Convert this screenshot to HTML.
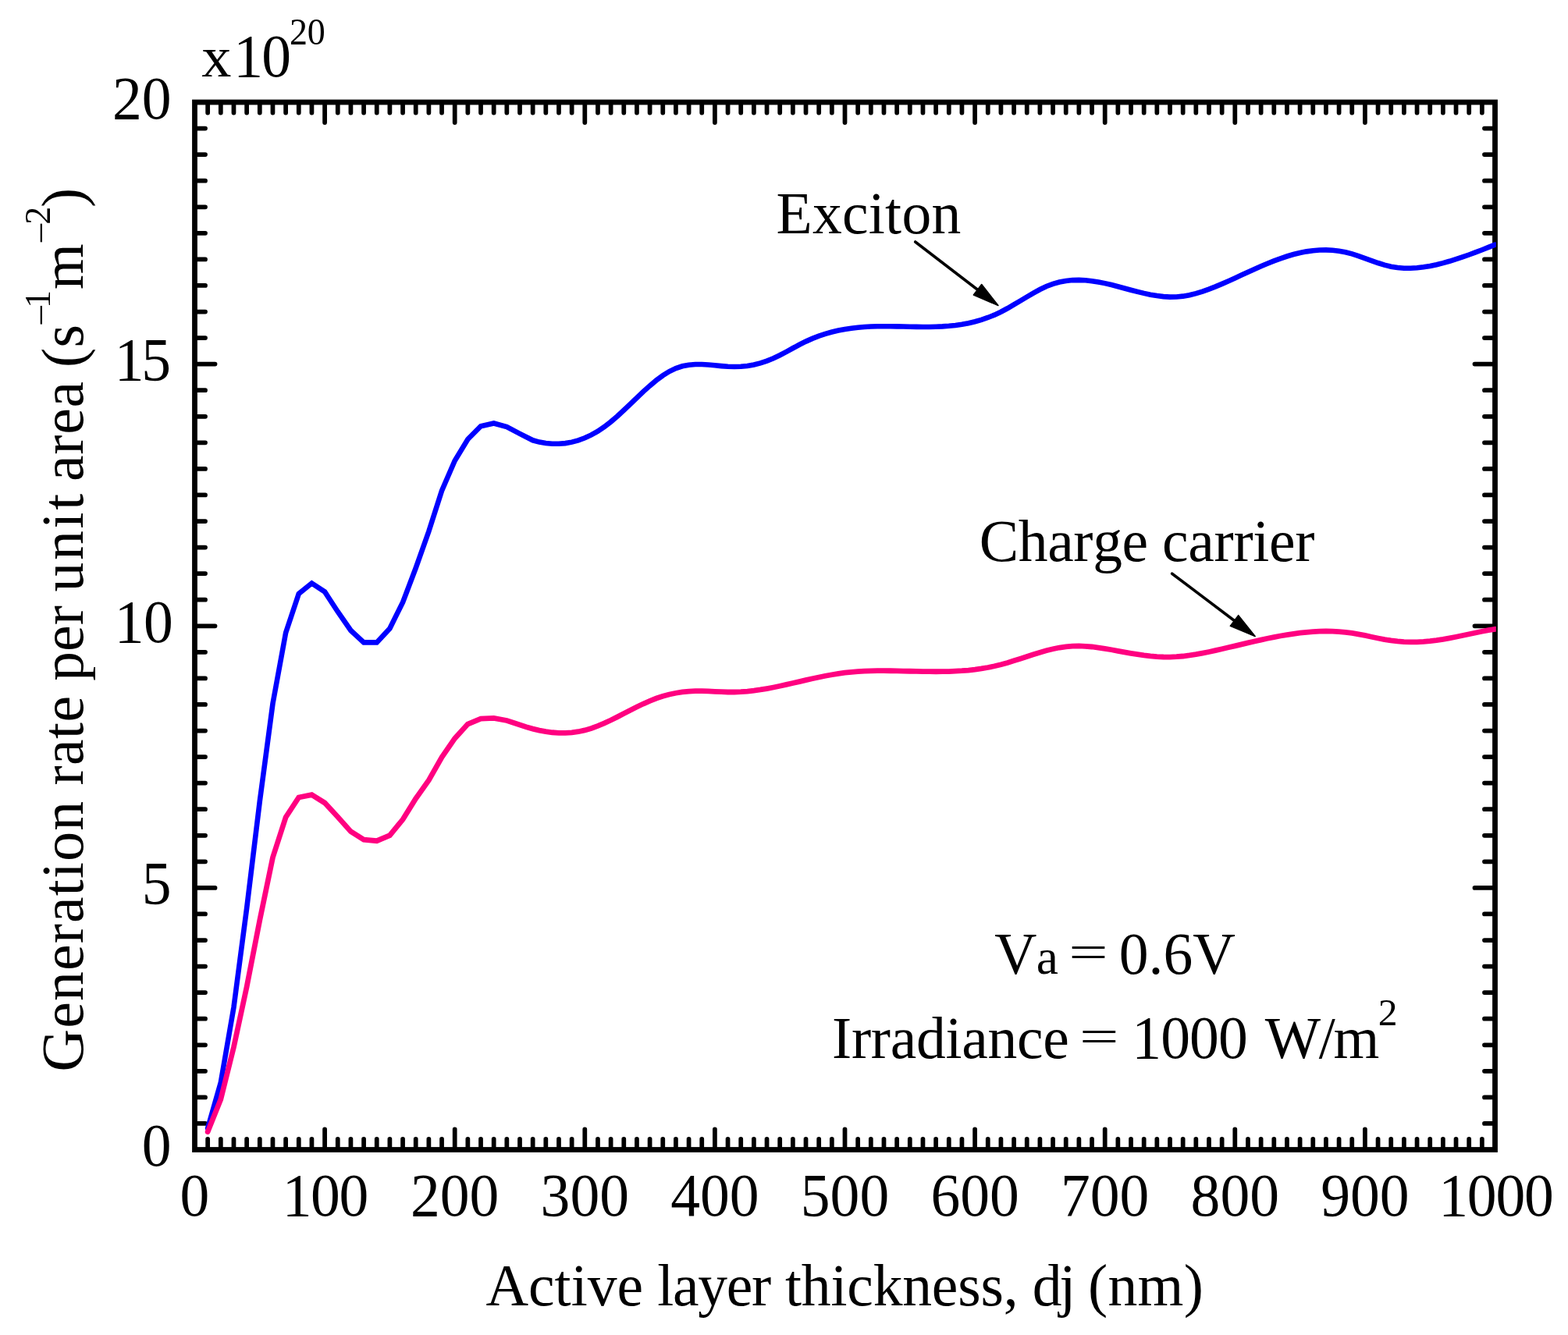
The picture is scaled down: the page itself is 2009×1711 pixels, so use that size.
<!DOCTYPE html>
<html><head><meta charset="utf-8"><title>Generation rate per unit area vs active layer thickness</title>
<style>
html,body{margin:0;padding:0;background:#fff;}
body{width:2009px;height:1711px;overflow:hidden;}
svg{display:block;}
text{font-family:"Liberation Serif","Times New Roman",Times,serif;fill:#000;font-kerning:none;}
</style></head><body>
<svg width="2009" height="1711" viewBox="0 0 2009 1711">
<rect width="2009" height="1711" fill="#fff"/>
<path id="ticks" d="M266.16,1470.10V1459.97M266.16,134.40V144.53M282.82,1470.10V1459.97M282.82,134.40V144.53M299.48,1470.10V1459.97M299.48,134.40V144.53M316.14,1470.10V1459.97M316.14,134.40V144.53M332.80,1470.10V1459.97M332.80,134.40V144.53M349.46,1470.10V1459.97M349.46,134.40V144.53M366.12,1470.10V1459.97M366.12,134.40V144.53M382.78,1470.10V1459.97M382.78,134.40V144.53M399.44,1470.10V1459.97M399.44,134.40V144.53M416.10,1470.10V1447.47M416.10,134.40V157.03M432.76,1470.10V1459.97M432.76,134.40V144.53M449.42,1470.10V1459.97M449.42,134.40V144.53M466.08,1470.10V1459.97M466.08,134.40V144.53M482.74,1470.10V1459.97M482.74,134.40V144.53M499.40,1470.10V1459.97M499.40,134.40V144.53M516.06,1470.10V1459.97M516.06,134.40V144.53M532.72,1470.10V1459.97M532.72,134.40V144.53M549.38,1470.10V1459.97M549.38,134.40V144.53M566.04,1470.10V1459.97M566.04,134.40V144.53M582.70,1470.10V1447.47M582.70,134.40V157.03M599.36,1470.10V1459.97M599.36,134.40V144.53M616.02,1470.10V1459.97M616.02,134.40V144.53M632.68,1470.10V1459.97M632.68,134.40V144.53M649.34,1470.10V1459.97M649.34,134.40V144.53M666.00,1470.10V1459.97M666.00,134.40V144.53M682.66,1470.10V1459.97M682.66,134.40V144.53M699.32,1470.10V1459.97M699.32,134.40V144.53M715.98,1470.10V1459.97M715.98,134.40V144.53M732.64,1470.10V1459.97M732.64,134.40V144.53M749.30,1470.10V1447.47M749.30,134.40V157.03M765.96,1470.10V1459.97M765.96,134.40V144.53M782.62,1470.10V1459.97M782.62,134.40V144.53M799.28,1470.10V1459.97M799.28,134.40V144.53M815.94,1470.10V1459.97M815.94,134.40V144.53M832.60,1470.10V1459.97M832.60,134.40V144.53M849.26,1470.10V1459.97M849.26,134.40V144.53M865.92,1470.10V1459.97M865.92,134.40V144.53M882.58,1470.10V1459.97M882.58,134.40V144.53M899.24,1470.10V1459.97M899.24,134.40V144.53M915.90,1470.10V1447.47M915.90,134.40V157.03M932.56,1470.10V1459.97M932.56,134.40V144.53M949.22,1470.10V1459.97M949.22,134.40V144.53M965.88,1470.10V1459.97M965.88,134.40V144.53M982.54,1470.10V1459.97M982.54,134.40V144.53M999.20,1470.10V1459.97M999.20,134.40V144.53M1015.86,1470.10V1459.97M1015.86,134.40V144.53M1032.52,1470.10V1459.97M1032.52,134.40V144.53M1049.18,1470.10V1459.97M1049.18,134.40V144.53M1065.84,1470.10V1459.97M1065.84,134.40V144.53M1082.50,1470.10V1447.47M1082.50,134.40V157.03M1099.16,1470.10V1459.97M1099.16,134.40V144.53M1115.82,1470.10V1459.97M1115.82,134.40V144.53M1132.48,1470.10V1459.97M1132.48,134.40V144.53M1149.14,1470.10V1459.97M1149.14,134.40V144.53M1165.80,1470.10V1459.97M1165.80,134.40V144.53M1182.46,1470.10V1459.97M1182.46,134.40V144.53M1199.12,1470.10V1459.97M1199.12,134.40V144.53M1215.78,1470.10V1459.97M1215.78,134.40V144.53M1232.44,1470.10V1459.97M1232.44,134.40V144.53M1249.10,1470.10V1447.47M1249.10,134.40V157.03M1265.76,1470.10V1459.97M1265.76,134.40V144.53M1282.42,1470.10V1459.97M1282.42,134.40V144.53M1299.08,1470.10V1459.97M1299.08,134.40V144.53M1315.74,1470.10V1459.97M1315.74,134.40V144.53M1332.40,1470.10V1459.97M1332.40,134.40V144.53M1349.06,1470.10V1459.97M1349.06,134.40V144.53M1365.72,1470.10V1459.97M1365.72,134.40V144.53M1382.38,1470.10V1459.97M1382.38,134.40V144.53M1399.04,1470.10V1459.97M1399.04,134.40V144.53M1415.70,1470.10V1447.47M1415.70,134.40V157.03M1432.36,1470.10V1459.97M1432.36,134.40V144.53M1449.02,1470.10V1459.97M1449.02,134.40V144.53M1465.68,1470.10V1459.97M1465.68,134.40V144.53M1482.34,1470.10V1459.97M1482.34,134.40V144.53M1499.00,1470.10V1459.97M1499.00,134.40V144.53M1515.66,1470.10V1459.97M1515.66,134.40V144.53M1532.32,1470.10V1459.97M1532.32,134.40V144.53M1548.98,1470.10V1459.97M1548.98,134.40V144.53M1565.64,1470.10V1459.97M1565.64,134.40V144.53M1582.30,1470.10V1447.47M1582.30,134.40V157.03M1598.96,1470.10V1459.97M1598.96,134.40V144.53M1615.62,1470.10V1459.97M1615.62,134.40V144.53M1632.28,1470.10V1459.97M1632.28,134.40V144.53M1648.94,1470.10V1459.97M1648.94,134.40V144.53M1665.60,1470.10V1459.97M1665.60,134.40V144.53M1682.26,1470.10V1459.97M1682.26,134.40V144.53M1698.92,1470.10V1459.97M1698.92,134.40V144.53M1715.58,1470.10V1459.97M1715.58,134.40V144.53M1732.24,1470.10V1459.97M1732.24,134.40V144.53M1748.90,1470.10V1447.47M1748.90,134.40V157.03M1765.56,1470.10V1459.97M1765.56,134.40V144.53M1782.22,1470.10V1459.97M1782.22,134.40V144.53M1798.88,1470.10V1459.97M1798.88,134.40V144.53M1815.54,1470.10V1459.97M1815.54,134.40V144.53M1832.20,1470.10V1459.97M1832.20,134.40V144.53M1848.86,1470.10V1459.97M1848.86,134.40V144.53M1865.52,1470.10V1459.97M1865.52,134.40V144.53M1882.18,1470.10V1459.97M1882.18,134.40V144.53M1898.84,1470.10V1459.97M1898.84,134.40V144.53M252.90,1439.94H263.02M1912.10,1439.94H1901.97M252.90,1406.38H263.02M1912.10,1406.38H1901.97M252.90,1372.81H263.02M1912.10,1372.81H1901.97M252.90,1339.25H263.02M1912.10,1339.25H1901.97M252.90,1305.69H263.02M1912.10,1305.69H1901.97M252.90,1272.12H263.02M1912.10,1272.12H1901.97M252.90,1238.56H263.02M1912.10,1238.56H1901.97M252.90,1205.00H263.02M1912.10,1205.00H1901.97M252.90,1171.44H263.02M1912.10,1171.44H1901.97M252.90,1137.88H275.52M1912.10,1137.88H1889.47M252.90,1104.31H263.02M1912.10,1104.31H1901.97M252.90,1070.75H263.02M1912.10,1070.75H1901.97M252.90,1037.19H263.02M1912.10,1037.19H1901.97M252.90,1003.62H263.02M1912.10,1003.62H1901.97M252.90,970.06H263.02M1912.10,970.06H1901.97M252.90,936.50H263.02M1912.10,936.50H1901.97M252.90,902.94H263.02M1912.10,902.94H1901.97M252.90,869.38H263.02M1912.10,869.38H1901.97M252.90,835.81H263.02M1912.10,835.81H1901.97M252.90,802.25H275.52M1912.10,802.25H1889.47M252.90,768.69H263.02M1912.10,768.69H1901.97M252.90,735.12H263.02M1912.10,735.12H1901.97M252.90,701.56H263.02M1912.10,701.56H1901.97M252.90,668.00H263.02M1912.10,668.00H1901.97M252.90,634.44H263.02M1912.10,634.44H1901.97M252.90,600.88H263.02M1912.10,600.88H1901.97M252.90,567.31H263.02M1912.10,567.31H1901.97M252.90,533.75H263.02M1912.10,533.75H1901.97M252.90,500.19H263.02M1912.10,500.19H1901.97M252.90,466.62H275.52M1912.10,466.62H1889.47M252.90,433.06H263.02M1912.10,433.06H1901.97M252.90,399.50H263.02M1912.10,399.50H1901.97M252.90,365.94H263.02M1912.10,365.94H1901.97M252.90,332.38H263.02M1912.10,332.38H1901.97M252.90,298.81H263.02M1912.10,298.81H1901.97M252.90,265.25H263.02M1912.10,265.25H1901.97M252.90,231.69H263.02M1912.10,231.69H1901.97M252.90,198.12H263.02M1912.10,198.12H1901.97M252.90,164.56H263.02M1912.10,164.56H1901.97" fill="none" stroke="#000" stroke-width="5.75" stroke-linecap="round"/>
<rect id="frame" x="249.5" y="131.0" width="1666.0" height="1342.5" fill="none" stroke="#000" stroke-width="6.8"/>
<defs><clipPath id="pc"><rect x="0" y="0" width="1916.8" height="1711"/></clipPath></defs>
<g clip-path="url(#pc)">
<path id="blue" d="M266.16,1446.00 L282.82,1387.50 L299.48,1291.00 L316.14,1164.00 L332.80,1027.00 L349.46,902.00 L366.12,811.00 L382.78,761.00 L399.44,747.50 L416.10,758.50 L432.76,784.00 L449.42,808.00 L466.08,823.40 L482.74,823.40 L499.40,805.50 L516.06,772.00 L532.72,728.00 L549.38,681.00 L566.04,629.00 L582.70,590.50 L599.36,563.00 L616.02,546.20 L632.68,542.50 L649.34,547.00 L666.00,555.80 L682.66,564.30 L690.99,566.60 L699.32,568.07 L707.65,568.79 L715.98,568.81 L724.31,568.10 L732.64,566.63 L740.97,564.38 L749.30,561.32 L757.63,557.44 L765.96,552.70 L774.29,547.09 L782.62,540.60 L790.95,533.42 L799.28,525.75 L807.61,517.81 L815.94,509.79 L824.27,501.91 L832.60,494.39 L840.93,487.43 L849.26,481.23 L857.59,476.02 L865.92,471.99 L874.25,469.27 L882.58,467.67 L890.91,466.99 L899.24,467.01 L907.57,467.51 L915.90,468.28 L924.23,469.11 L932.56,469.77 L940.89,470.06 L949.22,469.80 L957.55,468.95 L965.88,467.50 L974.21,465.42 L982.54,462.68 L990.87,459.28 L999.20,455.26 L1007.53,450.84 L1015.86,446.26 L1024.19,441.77 L1032.52,437.61 L1040.85,433.92 L1049.18,430.70 L1057.51,427.93 L1065.84,425.56 L1074.17,423.58 L1082.50,421.96 L1090.83,420.67 L1099.16,419.69 L1107.49,418.99 L1115.82,418.53 L1124.15,418.28 L1132.48,418.20 L1140.81,418.25 L1149.14,418.38 L1157.47,418.56 L1165.80,418.75 L1174.13,418.90 L1182.46,418.99 L1190.79,418.96 L1199.12,418.77 L1207.45,418.40 L1215.78,417.79 L1224.11,416.91 L1232.44,415.71 L1240.77,414.16 L1249.10,412.22 L1257.43,409.84 L1265.76,406.99 L1274.09,403.63 L1282.42,399.71 L1290.75,395.28 L1299.08,390.48 L1307.41,385.49 L1315.74,380.47 L1324.07,375.58 L1332.40,371.03 L1340.73,367.04 L1349.06,363.83 L1357.39,361.48 L1365.72,359.93 L1374.05,359.09 L1382.38,358.90 L1390.71,359.28 L1399.04,360.17 L1407.37,361.47 L1415.70,363.13 L1424.03,365.07 L1432.36,367.20 L1440.69,369.44 L1449.02,371.69 L1457.35,373.88 L1465.68,375.90 L1474.01,377.67 L1482.34,379.10 L1490.67,380.11 L1499.00,380.59 L1507.33,380.46 L1515.66,379.64 L1523.99,378.16 L1532.32,376.10 L1540.65,373.55 L1548.98,370.59 L1557.31,367.33 L1565.64,363.84 L1573.97,360.19 L1582.30,356.43 L1590.63,352.61 L1598.96,348.78 L1607.29,345.00 L1615.62,341.31 L1623.95,337.76 L1632.28,334.41 L1640.61,331.31 L1648.94,328.50 L1657.27,326.05 L1665.60,323.99 L1673.93,322.37 L1682.26,321.20 L1690.59,320.52 L1698.92,320.36 L1707.25,320.74 L1715.58,321.69 L1723.91,323.23 L1732.24,325.38 L1740.57,328.05 L1748.90,331.02 L1757.23,334.07 L1765.56,337.01 L1773.89,339.61 L1782.22,341.68 L1790.55,343.04 L1798.88,343.71 L1807.21,343.77 L1815.54,343.28 L1823.87,342.30 L1832.20,340.91 L1840.53,339.16 L1848.86,337.11 L1857.19,334.79 L1865.52,332.22 L1873.85,329.46 L1882.18,326.51 L1890.51,323.42 L1898.84,320.22 L1907.17,316.94 L1915.50,313.61" fill="none" stroke="#0000ff" stroke-width="6.6" stroke-linejoin="miter" stroke-miterlimit="10" stroke-linecap="round"/>
<path id="pink" d="M266.16,1450.50 L282.82,1409.00 L299.48,1342.00 L316.14,1264.70 L332.80,1179.40 L349.46,1099.00 L366.12,1047.50 L382.78,1022.00 L399.44,1018.60 L416.10,1029.00 L432.76,1047.00 L449.42,1065.70 L466.08,1076.20 L482.74,1077.70 L499.40,1070.70 L516.06,1050.30 L532.72,1023.50 L549.38,1000.00 L566.04,970.50 L582.70,946.40 L599.36,928.00 L616.02,921.00 L632.68,920.30 L649.34,923.50 L657.67,926.27 L666.00,929.03 L674.33,931.73 L682.66,934.12 L690.99,936.11 L699.32,937.67 L707.65,938.76 L715.98,939.35 L724.31,939.39 L732.64,938.86 L740.97,937.71 L749.30,935.91 L757.63,933.43 L765.96,930.38 L774.29,926.85 L782.62,922.96 L790.95,918.83 L799.28,914.56 L807.61,910.26 L815.94,906.05 L824.27,902.04 L832.60,898.34 L840.93,895.06 L849.26,892.29 L857.59,890.02 L865.92,888.24 L874.25,886.94 L882.58,886.08 L890.91,885.66 L899.24,885.64 L907.57,885.89 L915.90,886.29 L924.23,886.70 L932.56,886.98 L940.89,887.01 L949.22,886.70 L957.55,886.06 L965.88,885.13 L974.21,883.96 L982.54,882.56 L990.87,880.99 L999.20,879.27 L1007.53,877.44 L1015.86,875.54 L1024.19,873.61 L1032.52,871.68 L1040.85,869.79 L1049.18,867.97 L1057.51,866.27 L1065.84,864.73 L1074.17,863.37 L1082.50,862.23 L1090.83,861.34 L1099.16,860.67 L1107.49,860.19 L1115.82,859.88 L1124.15,859.71 L1132.48,859.67 L1140.81,859.73 L1149.14,859.85 L1157.47,860.03 L1165.80,860.23 L1174.13,860.42 L1182.46,860.59 L1190.79,860.72 L1199.12,860.76 L1207.45,860.71 L1215.78,860.53 L1224.11,860.21 L1232.44,859.71 L1240.77,859.02 L1249.10,858.11 L1257.43,856.95 L1265.76,855.51 L1274.09,853.79 L1282.42,851.74 L1290.75,849.40 L1299.08,846.84 L1307.41,844.16 L1315.74,841.42 L1324.07,838.73 L1332.40,836.15 L1340.73,833.79 L1349.06,831.72 L1357.39,830.03 L1365.72,828.79 L1374.05,828.10 L1382.38,827.96 L1390.71,828.28 L1399.04,829.00 L1407.37,830.04 L1415.70,831.32 L1424.03,832.76 L1432.36,834.30 L1440.69,835.85 L1449.02,837.34 L1457.35,838.71 L1465.68,839.91 L1474.01,840.89 L1482.34,841.61 L1490.67,842.02 L1499.00,842.07 L1507.33,841.72 L1515.66,841.01 L1523.99,839.98 L1532.32,838.68 L1540.65,837.16 L1548.98,835.47 L1557.31,833.65 L1565.64,831.75 L1573.97,829.80 L1582.30,827.83 L1590.63,825.85 L1598.96,823.89 L1607.29,821.96 L1615.62,820.08 L1623.95,818.29 L1632.28,816.59 L1640.61,815.01 L1648.94,813.56 L1657.27,812.28 L1665.60,811.18 L1673.93,810.28 L1682.26,809.61 L1690.59,809.17 L1698.92,809.00 L1707.25,809.12 L1715.58,809.54 L1723.91,810.29 L1732.24,811.39 L1740.57,812.81 L1748.90,814.46 L1757.23,816.22 L1765.56,817.96 L1773.89,819.57 L1782.22,820.94 L1790.55,821.96 L1798.88,822.59 L1807.21,822.86 L1815.54,822.78 L1823.87,822.37 L1832.20,821.65 L1840.53,820.64 L1848.86,819.37 L1857.19,817.89 L1865.52,816.25 L1873.85,814.52 L1882.18,812.74 L1890.51,810.97 L1898.84,809.27 L1907.17,807.68 L1915.50,806.28" fill="none" stroke="#ff0080" stroke-width="6.8" stroke-linejoin="miter" stroke-miterlimit="10" stroke-linecap="round"/>
</g>
<g font-size="75.6">
<text id="yl0" transform="translate(219.50,1494.00) scale(1.0000,1.0400)" text-anchor="end">0</text>
<text id="yl5" transform="translate(219.50,1158.38) scale(1.0000,1.0400)" text-anchor="end">5</text>
<text id="yl10" transform="translate(146.76,822.75) scale(1,1.0400)" font-size="75.6" textLength="75.02" lengthAdjust="spacing">10</text>
<text id="yl15" transform="translate(146.76,487.12) scale(1,1.0400)" font-size="75.6" textLength="72.20" lengthAdjust="spacing">15</text>
<text id="yl20" transform="translate(219.50,151.50) scale(1.0000,1.0400)" text-anchor="end">20</text>
<text id="xl0" transform="translate(249.50,1558.20) scale(1.0000,1.0400)" text-anchor="middle">0</text>
<text id="xl100" transform="translate(361.66,1558.20) scale(1,1.0400)" font-size="75.6" textLength="110.62" lengthAdjust="spacing">100</text>
<text id="xl200" transform="translate(582.70,1558.20) scale(1.0000,1.0400)" text-anchor="middle">200</text>
<text id="xl300" transform="translate(749.30,1558.20) scale(1.0000,1.0400)" text-anchor="middle">300</text>
<text id="xl400" transform="translate(915.90,1558.20) scale(1.0000,1.0400)" text-anchor="middle">400</text>
<text id="xl500" transform="translate(1082.50,1558.20) scale(1.0000,1.0400)" text-anchor="middle">500</text>
<text id="xl600" transform="translate(1249.10,1558.20) scale(1.0000,1.0400)" text-anchor="middle">600</text>
<text id="xl700" transform="translate(1415.70,1558.20) scale(1.0000,1.0400)" text-anchor="middle">700</text>
<text id="xl800" transform="translate(1582.30,1558.20) scale(1.0000,1.0400)" text-anchor="middle">800</text>
<text id="xl900" transform="translate(1748.90,1558.20) scale(1.0000,1.0400)" text-anchor="middle">900</text>
<text id="xl1000" transform="translate(1843.26,1558.20) scale(1,1.0400)" font-size="75.6" textLength="147.52" lengthAdjust="spacing">1000</text>
<text id="x10a" transform="translate(258.33,97.80) scale(1.0107,0.9750)" font-size="75.6">x</text>
<text id="x10" transform="translate(299.36,97.80) scale(1,1.0400)" font-size="75.6" textLength="73.72" lengthAdjust="spacing">10</text>
<text id="x10s" transform="translate(370.88,57.00) scale(1,1.0400)" font-size="46" textLength="45.87" lengthAdjust="spacing">20</text>
<text id="xt0" transform="translate(622.46,1672.90) scale(1,1.0000)" font-size="75.6" textLength="201.56" lengthAdjust="spacing">Active</text>
<text id="xt1" transform="translate(842.29,1672.90) scale(1,1.0000)" font-size="75.6" textLength="145.88" lengthAdjust="spacing">layer</text>
<text id="xt2" transform="translate(1006.06,1672.90) scale(1,1.0000)" font-size="75.6" textLength="298.50" lengthAdjust="spacing">thickness,</text>
<text id="xt3" transform="translate(1322.87,1672.90) scale(1,1.0000)" font-size="75.6" textLength="55.33" lengthAdjust="spacing">dj</text>
<text id="xt4" transform="translate(1394.08,1672.90) scale(1,1.0000)" font-size="75.6" textLength="147.74" lengthAdjust="spacing">(nm)</text>
<text id="exc" transform="translate(994.52,298.80) scale(1,1.0000)" font-size="75.6" textLength="236.72" lengthAdjust="spacing">Exciton</text>
<text id="chg0" transform="translate(1254.80,718.70) scale(1,1.0000)" font-size="75.6" textLength="216.32" lengthAdjust="spacing">Charge</text>
<text id="chg1" transform="translate(1489.02,718.70) scale(1,1.0000)" font-size="75.6" textLength="195.44" lengthAdjust="spacing">carrier</text>
<text id="va1" transform="translate(1274.36,1247.70) scale(0.9925,1.0000)" font-size="75.6">V</text>
<text id="va2" transform="translate(1327.67,1247.70) scale(1.0167,1.0000)" font-size="62.5">a</text>
<text id="va3" transform="translate(1369.25,1241.10) scale(1.1825,0.8100)" font-size="75.6">=</text>
<text id="va4" transform="translate(1433.72,1247.70) scale(1,1.0000)" font-size="75.6" textLength="149.13" lengthAdjust="spacing">0.6V</text>
<text id="ir1" transform="translate(1066.07,1356.00) scale(1,1.0000)" font-size="75.6" textLength="303.75" lengthAdjust="spacing">Irradiance</text>
<text id="ir2" transform="translate(1382.94,1349.40) scale(1.1854,0.8100)" font-size="75.6">=</text>
<text id="ir3" transform="translate(1450.26,1356.00) scale(1,1.0400)" font-size="75.6" textLength="148.52" lengthAdjust="spacing">1000</text>
<text id="ir4" transform="translate(1620.83,1356.00) scale(1,1.0000)" font-size="75.6" textLength="146.46" lengthAdjust="spacing">W/m</text>
<text id="ir5" transform="translate(1765.82,1314.40) scale(1.0792,1.0400)" font-size="46">2</text>
<text id="yt10" transform="translate(106.00,1373.60) rotate(-90) scale(1,1.0000)" font-size="75.6" textLength="346.55" lengthAdjust="spacing">Generation</text>
<text id="yt11" transform="translate(106.00,1006.61) rotate(-90) scale(1,1.0000)" font-size="75.6" textLength="114.63" lengthAdjust="spacing">rate</text>
<text id="yt12" transform="translate(106.00,872.72) rotate(-90) scale(1,1.0000)" font-size="75.6" textLength="96.58" lengthAdjust="spacing">per</text>
<text id="yt13" transform="translate(106.00,758.50) rotate(-90) scale(1,1.0000)" font-size="75.6" textLength="125.74" lengthAdjust="spacing">unit</text>
<text id="yt14" transform="translate(106.00,616.96) rotate(-90) scale(1,1.0000)" font-size="75.6" textLength="127.99" lengthAdjust="spacing">area</text>
<text id="yt15" transform="translate(106.00,471.02) rotate(-90) scale(1,1.0000)" font-size="75.6" textLength="54.85" lengthAdjust="spacing">(s</text>
<text id="yt2" transform="translate(64.30,415.29) rotate(-90) scale(1,1.0000)" font-size="46" textLength="43.35" lengthAdjust="spacing">–1</text>
<text id="yt3" transform="translate(106.00,371.09) rotate(-90) scale(1,1.0000)" font-size="75.6">m</text>
<text id="yt4" transform="translate(64.30,310.09) rotate(-90) scale(1,1.0000)" font-size="46" textLength="45.32" lengthAdjust="spacing">–2</text>
<text id="yt5" transform="translate(106.00,266.04) rotate(-90) scale(1,1.0000)" font-size="75.6">)</text>
</g>
<g id="a1"><path d="M1172.7,310.0 L1254.1,372.5" stroke="#000" stroke-width="3.6" fill="none" stroke-linecap="round"/><path d="M1278.9,391.5 L1247.4,378.0 L1257.7,364.6 Z" fill="#000" stroke="#000" stroke-width="1.6" stroke-linejoin="round"/></g>
<g id="a2"><path d="M1501.7,735.2 L1583.2,796.7" stroke="#000" stroke-width="3.6" fill="none" stroke-linecap="round"/><path d="M1608.1,815.5 L1576.4,802.3 L1586.7,788.7 Z" fill="#000" stroke="#000" stroke-width="1.6" stroke-linejoin="round"/></g>
</svg>
</body></html>
